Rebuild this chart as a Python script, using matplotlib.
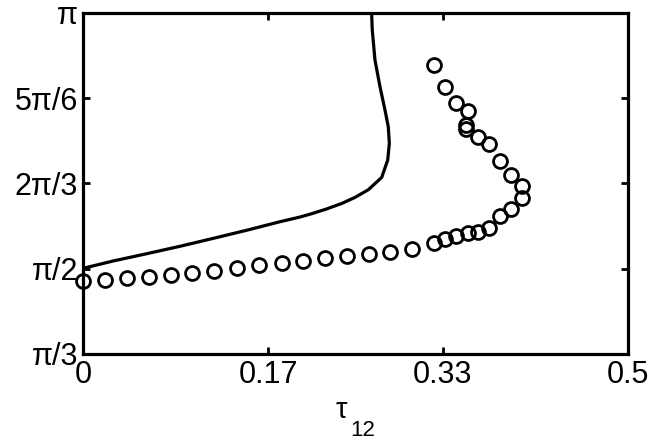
import matplotlib
matplotlib.use('Agg')
import matplotlib.pyplot as plt
import numpy as np

plt.rcParams['font.family'] = ['Liberation Sans', 'DejaVu Sans']

# solid curve, phase given in units of pi/6
curve_tau = [0.0, 0.0274, 0.0581, 0.0887, 0.1193, 0.150, 0.1806, 0.199,
             0.210, 0.2235, 0.2375, 0.2495, 0.2618, 0.2741, 0.2796, 0.2811,
             0.2801, 0.2771, 0.2725, 0.2679, 0.2654, 0.2648]
curve_phase = [3.005, 3.09, 3.175, 3.262, 3.355, 3.45, 3.55, 3.605,
               3.645, 3.70, 3.765, 3.835, 3.925, 4.07, 4.273, 4.469,
               4.664, 4.859, 5.133, 5.445, 5.797, 6.0]

# circles, phase in units of pi/6
circ_tau = [0.000, 0.020, 0.040, 0.060, 0.080, 0.100, 0.120, 0.141, 0.161,
            0.182, 0.202, 0.222, 0.242, 0.262, 0.282, 0.302, 0.322,
            0.332, 0.342, 0.353, 0.363, 0.373, 0.383, 0.393, 0.403,
            0.403, 0.393, 0.383, 0.373, 0.363, 0.352, 0.352, 0.353,
            0.342, 0.332, 0.322]
circ_phase = [2.860, 2.872, 2.887, 2.905, 2.926, 2.948, 2.971, 3.004, 3.037,
              3.063, 3.091, 3.121, 3.147, 3.168, 3.195, 3.225, 3.295,
              3.344, 3.386, 3.414, 3.433, 3.473, 3.621, 3.696, 3.832,
              3.972, 4.098, 4.265, 4.461, 4.547, 4.637, 4.684, 4.848,
              4.945, 5.125, 5.387]

xticks = [0, 0.17, 0.33, 0.5]
xticklabels = ['0', '0.17', '0.33', '0.5']
yticks_u = [2, 3, 4, 5, 6]
yticklabels = ['π/3', 'π/2', '2π/3', '5π/6', 'π']

fig = plt.figure(figsize=(6.52, 4.43), dpi=100)
ax = fig.add_axes([0.128, 0.201, 0.8345, 0.7703])

ax.plot(curve_tau, np.array(curve_phase) * np.pi / 6, color='black', lw=2.3,
        solid_joinstyle='round')
ax.plot(circ_tau, np.array(circ_phase) * np.pi / 6, 'o', mfc='none',
        mec='black', mew=2.0, ms=10, clip_on=False)

ax.set_xlim(0, 0.5)
ax.set_ylim(np.pi / 3, np.pi)
ax.set_xticks(xticks)
ax.set_xticklabels(xticklabels)
ax.set_yticks(np.array(yticks_u) * np.pi / 6)
ax.set_yticklabels(yticklabels)
ax.tick_params(direction='in', length=5, width=2.0, labelsize=22,
               top=True, right=True, pad=4)
for s in ax.spines.values():
    s.set_linewidth(2.3)

# x label: tau with a dropped subscript
fig.text(341 / 652, 1 - 418 / 443, 'τ', fontsize=21, ha='center', va='baseline')
fig.text(363 / 652, 1 - 436 / 443, '12', fontsize=16, ha='center', va='baseline')

fig.savefig('out.png', dpi=100)
